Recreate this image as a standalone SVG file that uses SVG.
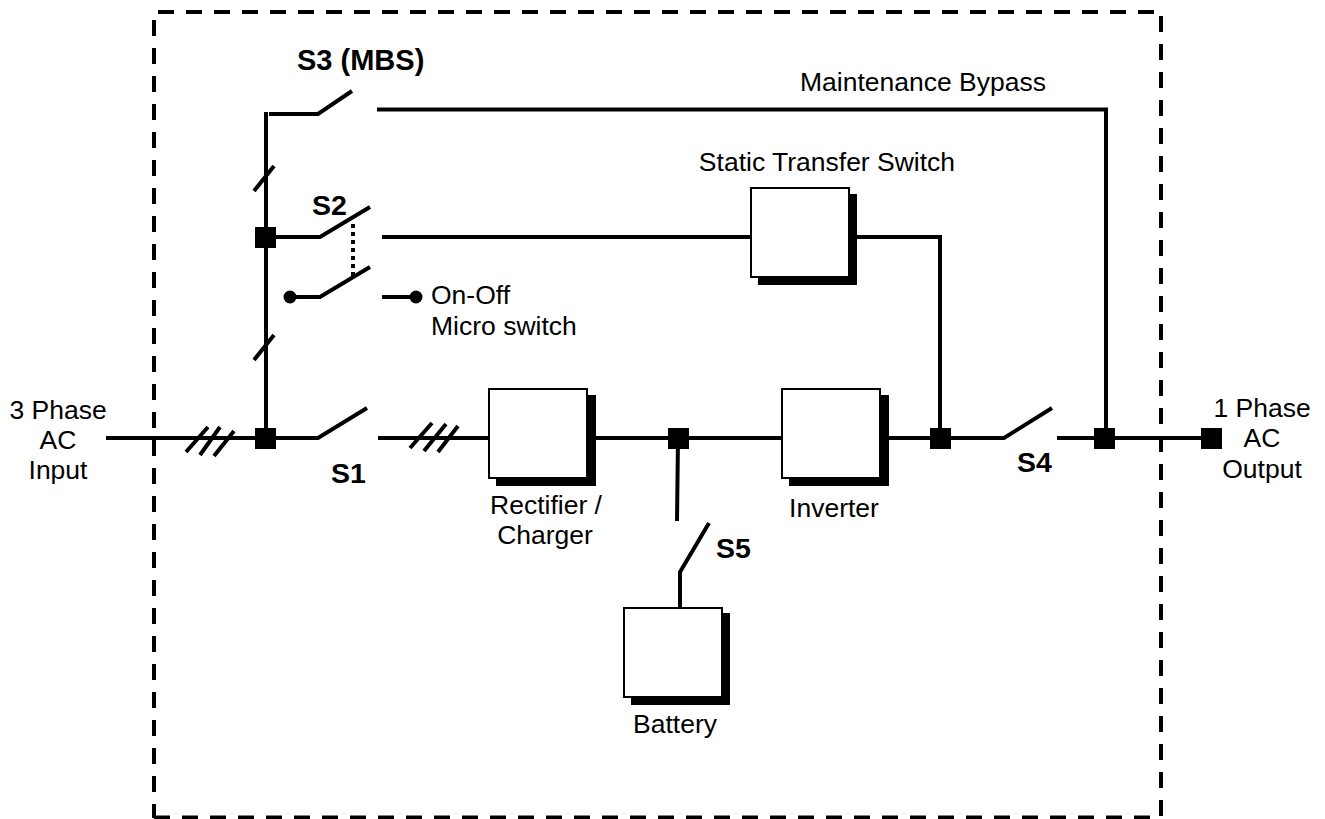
<svg xmlns="http://www.w3.org/2000/svg" width="1325" height="819" viewBox="0 0 1325 819">
<style>
text{font-family:"Liberation Sans",Arial,sans-serif;font-size:26.500px;fill:#000}
.b{font-weight:bold;font-size:28.500px}
.m{text-anchor:middle}
.w{fill:none;stroke:#000;stroke-width:4}
.e{fill:none;stroke:#000;stroke-width:4;stroke-dasharray:16 12}
.d{fill:#000;stroke:none}
.s{fill:#000}
.f{fill:#fff;stroke:#000;stroke-width:2}
</style>
<rect width="1325" height="819" fill="#fff"/>
<g id="boundary">
<path class="e" d="M158 12H1154"/>
<path class="e" d="M1161 16V817"/>
<path class="e" d="M154 817.500H1150"/>
<path class="e" d="M154 20V818"/>
</g>
<g id="connectors">
<path class="w" d="M266 112V438"/>
<path class="w" d="M106 438H318L367 408"/>
<path class="w" d="M269 114H318L352 91"/>
<path class="w" d="M377 109.500H1106V438"/>
<path class="w" d="M266 237H320L370 207"/>
<path class="w" d="M382 237H751"/>
<path class="w" d="M850 237H940V438"/>
<path class="w" d="M290 297H320L370 267"/>
<path class="w" d="M382 297H416"/>
<path class="w" d="M353 224V277" style="stroke-dasharray:4 4"/>
<path class="w" d="M378 438H489"/>
<path class="w" d="M587 438H782"/>
<path class="w" d="M880 438H1004L1052 408"/>
<path class="w" d="M1057 438H1210"/>
<path class="w" d="M678 438L677 521"/>
<path class="w" d="M709 523L680 572V608"/>
<path class="w" d="M254 191L274 166"/>
<path class="w" d="M254 360L274 335"/>
<path class="w" d="M186 452L208 427M200 455L220 427M214 456L234 431"/>
<path class="w" d="M410 448L432 423M424 451L446 424M438 452L458 426"/>
</g>
<g id="j1"><rect class="d" x="255" y="227" width="21" height="21"/></g>
<g id="j2"><rect class="d" x="255" y="428" width="21" height="21"/></g>
<g id="j3"><rect class="d" x="668" y="428" width="21" height="21"/></g>
<g id="j4"><rect class="d" x="930" y="428" width="21" height="21"/></g>
<g id="j5"><rect class="d" x="1094" y="428" width="21" height="21"/></g>
<g id="j6"><rect class="d" x="1201" y="428" width="21" height="21"/></g>
<g id="micro-a"><circle class="s" cx="290" cy="297" r="6.500"/></g>
<g id="micro-b"><circle class="s" cx="416" cy="297" r="6.500"/><text x="431" y="304">On-Off</text><text x="431" y="335">Micro switch</text></g>
<g id="rectifier"><rect class="s" x="496" y="395" width="100" height="91"/><rect class="f" x="489" y="389" width="98" height="89"/><text class="m" x="546" y="514">Rectifier /</text><text class="m" x="545" y="544">Charger</text></g>
<g id="inverter"><rect class="s" x="789" y="395" width="100" height="91"/><rect class="f" x="782" y="389" width="98" height="89"/><text class="m" x="834" y="517">Inverter</text></g>
<g id="sts"><rect class="s" x="758" y="194" width="99" height="91"/><rect class="f" x="751" y="188" width="98" height="89"/><text class="m" x="827" y="171">Static Transfer Switch</text></g>
<g id="battery"><rect class="s" x="631" y="613" width="99" height="92"/><rect class="f" x="624" y="608" width="98" height="89"/><text class="m" x="675" y="733">Battery</text></g>
<g id="labels">
<text class="b" x="297" y="70" style="font-size:29px">S3 (MBS)</text>
<text class="b" x="312" y="215">S2</text>
<text class="b" x="331" y="483">S1</text>
<text class="b" x="1017" y="472">S4</text>
<text class="b" x="716" y="558">S5</text>
<text x="800" y="91">Maintenance Bypass</text>
<text class="m" x="58" y="419">3 Phase</text>
<text class="m" x="58" y="449">AC</text>
<text class="m" x="58" y="479">Input</text>
<text class="m" x="1262" y="417">1 Phase</text>
<text class="m" x="1262" y="447">AC</text>
<text class="m" x="1262" y="478">Output</text>
</g>
</svg>
